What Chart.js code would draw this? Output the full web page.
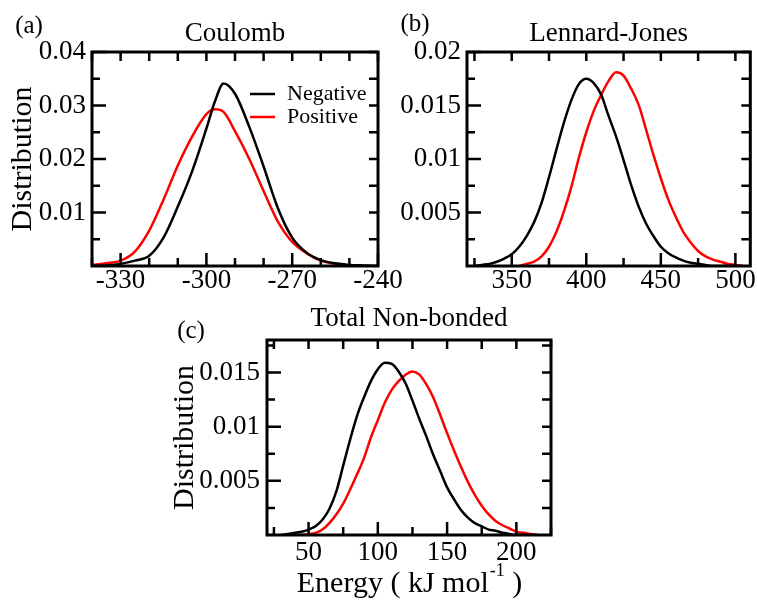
<!DOCTYPE html>
<html>
<head>
<meta charset="utf-8">
<title>Energy distributions</title>
<script src="https://cdn.jsdelivr.net/npm/chart.js@4.4.0/dist/chart.umd.min.js"></script>
<style>
  body { margin: 0; background: #fff; }
  #wrap { position: relative; width: 757px; height: 603px; overflow: hidden; }
  #wrap canvas { position: absolute; left: 0; top: 0; }
</style>
</head>
<body>
<div id="wrap">
  <canvas id="chartA" width="757" height="603"></canvas>
  <canvas id="chartB" width="757" height="603"></canvas>
  <canvas id="chartC" width="757" height="603"></canvas>
</div>
<script>
// (a) Coulomb
const coulombX = [-340, -335, -330, -325, -320, -315, -310, -305, -300, -297, -294, -290,
  -285, -280, -275, -270, -265, -260, -255, -250, -245, -240];
const coulombNeg = [0, 0.0001, 0.0004, 0.001, 0.0019, 0.0053, 0.0111, 0.0177, 0.0257, 0.0308, 0.0341, 0.0322,
  0.026, 0.0186, 0.0108, 0.0053, 0.0025, 0.0011, 0.0005, 0.0002, 0.0001, 0];
const coulombPos = [0.0002, 0.0005, 0.001, 0.0027, 0.0066, 0.0124, 0.0188, 0.0242, 0.0284, 0.0293, 0.0288, 0.0252,
  0.02, 0.014, 0.0083, 0.0045, 0.0024, 0.001, 0.0004, 0.0001, 0, 0];
const coulombXLabels = [-330, -300, -270, -240];
const coulombYLabels = [0.01, 0.02, 0.03, 0.04];

// (b) Lennard-Jones
const ljX = [325, 330, 335, 340, 345, 350, 355, 360, 365, 370, 375, 380, 385, 390, 395, 400, 405, 410, 415,
  420, 425, 430, 435, 440, 445, 450, 455, 460, 465, 470, 475, 480, 485, 490, 495, 500, 505];
const ljNeg = [0, 0.0001, 0.0002, 0.0004, 0.0007, 0.0011, 0.0018, 0.0028, 0.0041, 0.0059, 0.0083, 0.0109, 0.0134,
  0.0155, 0.017, 0.0175, 0.0171, 0.016, 0.014, 0.0121, 0.0099, 0.0076, 0.0056, 0.004, 0.0028, 0.0018, 0.0012,
  0.0008, 0.0005, 0.0003, 0.0002, 0.0001, 0, 0, 0, 0, 0];
const ljPos = [null, null, null, null, null, null, 0, 0.0002, 0.0004, 0.0009, 0.0018, 0.0032, 0.0051, 0.0074,
  0.0101, 0.0125, 0.0145, 0.016, 0.0173, 0.0181, 0.0178, 0.0166, 0.0151, 0.0128, 0.0104, 0.0082, 0.0062,
  0.0046, 0.0032, 0.0022, 0.0014, 0.0009, 0.0006, 0.0004, 0.0002, 0.0001, 0];
const ljXLabels = [350, 400, 450, 500];
const ljYLabels = [0.005, 0.01, 0.015, 0.02];

// (c) Total non-bonded
const totalX = [30, 35, 40, 45, 50, 55, 60, 65, 70, 75, 80, 85, 90, 95, 100, 105, 110, 115, 120, 125, 130,
  135, 140, 145, 150, 155, 160, 165, 170, 175, 180, 185, 190, 195, 200, 205, 210, 215];
const totalNeg = [0, 0.0001, 0.0002, 0.0003, 0.0005, 0.0008, 0.0014, 0.0024, 0.004, 0.0064, 0.0088, 0.011,
  0.0127, 0.0142, 0.0153, 0.0159, 0.0158, 0.0151, 0.014, 0.0124, 0.0107, 0.0091, 0.0074, 0.0059, 0.0044,
  0.0033, 0.0023, 0.0016, 0.0011, 0.0008, 0.0005, 0.0004, 0.0002, 0.0001, 0, 0, 0, 0];
const totalPos = [null, null, null, 0, 0.0001, 0.0002, 0.0005, 0.0011, 0.0019, 0.0029, 0.0042, 0.0056, 0.0071,
  0.009, 0.0106, 0.0122, 0.0134, 0.0142, 0.0148, 0.0151, 0.0148, 0.0139, 0.0127, 0.0111, 0.0094, 0.0078,
  0.0063, 0.0049, 0.0037, 0.0027, 0.0019, 0.0013, 0.0009, 0.0006, 0.0003, 0.0002, 0.0001, 0];
const totalXLabels = [50, 100, 150, 200];
const totalYLabels = [0.005, 0.01, 0.015];

const SERIF = "'Liberation Serif', 'Times New Roman', serif";

function pairs(xs, ys) {
  return xs.map((x, i) => ({ x: x, y: ys[i] }));
}

function tickRange(from, to, step) {
  const out = [];
  for (let v = from; v <= to + step / 1000; v += step) out.push(+v.toFixed(6));
  return out;
}

function findLabel(list, v) {
  return list.find(l => Math.abs(l - v) < 1e-9);
}

// frame box, inward ticks on all four sides, panel letter, legend, x title with superscript
const frameTicks = {
  id: 'frameTicks',
  afterDraw(chart, args, opts) {
    const { ctx, chartArea: a, scales } = chart;
    ctx.save();
    ctx.strokeStyle = '#000';
    ctx.lineWidth = 2.5;
    ctx.beginPath();
    scales.x.ticks.forEach(t => {
      const px = scales.x.getPixelForValue(t.value);
      const len = findLabel(opts.xLabels, t.value) !== undefined ? 13 : 8;
      ctx.moveTo(px, a.bottom); ctx.lineTo(px, a.bottom - len);
      ctx.moveTo(px, a.top); ctx.lineTo(px, a.top + 9);
    });
    scales.y.ticks.forEach(t => {
      const py = scales.y.getPixelForValue(t.value);
      const len = findLabel(opts.yLabels, t.value) !== undefined ? 14 : 8;
      ctx.moveTo(a.left, py); ctx.lineTo(a.left + len, py);
      ctx.moveTo(a.right, py); ctx.lineTo(a.right - 9, py);
    });
    ctx.stroke();
    ctx.lineWidth = 3;
    ctx.strokeRect(a.left, a.top, a.right - a.left, a.bottom - a.top);

    ctx.fillStyle = '#000';
    ctx.font = '25px ' + SERIF;
    ctx.textAlign = 'center';
    ctx.textBaseline = 'middle';
    ctx.fillText(opts.panel, opts.panelPos[0], opts.panelPos[1]);

    if (opts.legend) {
      const [lx, ly, gap] = opts.legend;
      ctx.font = '22px ' + SERIF;
      ctx.textAlign = 'left';
      ctx.lineWidth = 2.5;
      chart.data.datasets.forEach((ds, i) => {
        const y = ly + i * gap;
        ctx.strokeStyle = ds.borderColor;
        ctx.beginPath();
        ctx.moveTo(lx, y); ctx.lineTo(lx + 25, y);
        ctx.stroke();
        ctx.fillText(ds.label, lx + 37, y);
      });
    }

    if (opts.xTitle) {
      const [pre, sup, post] = opts.xTitle;
      const big = '30px ' + SERIF, small = '18px ' + SERIF;
      ctx.font = big; const w1 = ctx.measureText(pre).width, w3 = ctx.measureText(post).width;
      ctx.font = small; const w2 = ctx.measureText(sup).width;
      let x = (a.left + a.right) / 2 - (w1 + w2 + w3) / 2;
      const y = opts.xTitleY;
      ctx.textAlign = 'left';
      ctx.font = big; ctx.fillText(pre, x, y); x += w1;
      ctx.font = small; ctx.fillText(sup, x + 1, y - 13); x += w2 + 1;
      ctx.font = big; ctx.fillText(post, x, y);
    }
    ctx.restore();
  }
};

function makePanel(id, p) {
  return new Chart(document.getElementById(id), {
    type: 'line',
    data: {
      datasets: [
        { label: 'Negative', data: pairs(p.x, p.neg), borderColor: '#000000' },
        { label: 'Positive', data: pairs(p.x, p.pos), borderColor: '#ff0000' }
      ]
    },
    options: {
      responsive: false,
      animation: false,
      events: [],
      layout: { padding: p.padding },
      elements: {
        point: { radius: 0 },
        line: { borderWidth: 2.5, cubicInterpolationMode: 'monotone', fill: false }
      },
      plugins: {
        legend: { display: false },
        tooltip: { enabled: false },
        title: {
          display: true, text: p.title, fullSize: false, color: '#000',
          font: { family: SERIF, size: 27, weight: 'normal', lineHeight: 1.2 },
          padding: { top: 0, bottom: p.titleGap }
        },
        frameTicks: {
          panel: p.panel, panelPos: p.panelPos, legend: p.legend,
          xLabels: p.xLabels, yLabels: p.yLabels, xTitle: p.xTitle, xTitleY: p.xTitleY
        }
      },
      scales: {
        x: {
          type: 'linear', min: p.xMin, max: p.xMax,
          grid: { display: false, drawTicks: false },
          border: { display: false },
          afterBuildTicks: s => { s.ticks = tickRange(p.xTick[0], p.xTick[1], p.xTick[2]).map(v => ({ value: v })); },
          afterFit: s => { s.height = p.xHeight; },
          ticks: {
            autoSkip: false, maxRotation: 0, padding: p.xPad, color: '#000',
            font: { family: SERIF, size: 27, lineHeight: 1 },
            callback: v => { const l = findLabel(p.xLabels, v); return l === undefined ? '' : String(l); }
          }
        },
        y: {
          type: 'linear', min: 0, max: p.yMax,
          grid: { display: false, drawTicks: false },
          border: { display: false },
          afterBuildTicks: s => { s.ticks = tickRange(p.yTick[0], p.yTick[1], p.yTick[2]).map(v => ({ value: v })); },
          afterFit: s => { s.width = p.yWidth; },
          ticks: {
            autoSkip: false, padding: p.yPad, color: '#000',
            font: { family: SERIF, size: 27, lineHeight: 1 },
            callback: v => { const l = findLabel(p.yLabels, v); return l === undefined ? '' : String(l); }
          },
          title: {
            display: !!p.yTitle, text: p.yTitle || '', color: '#000',
            font: { family: SERIF, size: 30, lineHeight: 1.2 },
            padding: { top: p.yTitlePad || 0, bottom: 0 }
          }
        }
      }
    },
    plugins: [frameTicks]
  });
}

makePanel('chartA', {
  x: coulombX, neg: coulombNeg, pos: coulombPos,
  xLabels: coulombXLabels, yLabels: coulombYLabels,
  xMin: -340, xMax: -240, xTick: [-340, -240, 10],
  yMax: 0.04, yTick: [0.005, 0.04, 0.005],
  title: 'Coulomb', titleGap: 1.8, panel: '(a)', panelPos: [29, 26],
  legend: [250, 94, 23],
  yTitle: 'Distribution', yTitlePad: 5,
  padding: { left: 0, right: 379, top: 17.8, bottom: 297 },
  yWidth: 92, xHeight: 40, xPad: 1, yPad: 6
});

makePanel('chartB', {
  x: ljX, neg: ljNeg, pos: ljPos,
  xLabels: ljXLabels, yLabels: ljYLabels,
  xMin: 320, xMax: 510, xTick: [325, 500, 25],
  yMax: 0.02, yTick: [0.0025, 0.02, 0.0025],
  title: 'Lennard-Jones', titleGap: 1.8, panel: '(b)', panelPos: [415, 24],
  padding: { left: 387, right: 5, top: 17.8, bottom: 297 },
  yWidth: 80, xHeight: 40, xPad: 1, yPad: 6
});

makePanel('chartC', {
  x: totalX, neg: totalNeg, pos: totalPos,
  xLabels: totalXLabels, yLabels: totalYLabels,
  xMin: 20, xMax: 225, xTick: [25, 225, 25],
  yMax: 0.018, yTick: [0.0025, 0.0175, 0.0025],
  title: 'Total Non-bonded', titleGap: 5.3, panel: '(c)', panelPos: [191, 331],
  yTitle: 'Distribution', yTitlePad: 0,
  xTitle: ['Energy ( kJ mol', '-1', ' )'], xTitleY: 584,
  padding: { left: 167, right: 206, top: 302.3, bottom: 0 },
  yWidth: 100, xHeight: 68, xPad: 4, yPad: 7
});
</script>
</body>
</html>
